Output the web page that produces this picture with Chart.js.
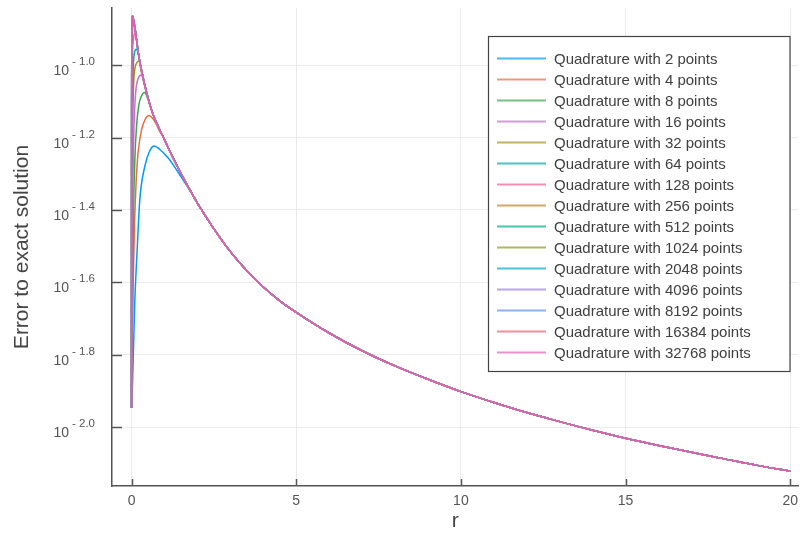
<!DOCTYPE html>
<html><head><meta charset="utf-8">
<script src="https://cdn.jsdelivr.net/npm/chart.js@4/dist/chart.umd.min.js"></script>
<style>html,body{margin:0;padding:0;background:#fff}#wrap{width:805px;height:534px}</style>
</head><body><div id="wrap"><canvas id="c" width="805" height="534"></canvas></div>
<script>
// ---- data (y values are log10 of the error) ----
const seriesLabels = ["Quadrature with 2 points","Quadrature with 4 points","Quadrature with 8 points","Quadrature with 16 points","Quadrature with 32 points","Quadrature with 64 points","Quadrature with 128 points","Quadrature with 256 points","Quadrature with 512 points","Quadrature with 1024 points","Quadrature with 2048 points","Quadrature with 4096 points","Quadrature with 8192 points","Quadrature with 16384 points","Quadrature with 32768 points"];
const seriesColors = ["#009AFA","#E36F47","#3EA44E","#C371D2","#AC8E18","#00AAAE","#ED5E93","#C68225","#00A98D","#8E971E","#00A8CB","#9B7FE9","#618DF6","#F05F73","#DD64B5"];
const xTickValues = [0,5,10,15,20];
const yTickExps = [-1.0,-1.2,-1.4,-1.6,-1.8,-2.0];

// common curve that all series follow once converged: [r, log10 error]
const envelope = [[0.03,-0.864],[0.05,-0.87],[0.1,-0.895],[0.15,-0.928],[0.2,-0.962],[0.25,-0.99],[0.3,-1.013],[0.4,-1.054],[0.5,-1.09],[0.65,-1.135],[0.8,-1.167],[0.97,-1.2],[1.15,-1.235],[1.36,-1.274],[1.6,-1.316],[1.85,-1.357],[2.06,-1.39],[2.5,-1.452],[3,-1.515],[3.5,-1.568],[4,-1.613],[4.5,-1.651],[5,-1.683],[6,-1.74],[7,-1.789],[8,-1.831],[9,-1.868],[10,-1.902],[11,-1.932],[12,-1.96],[13,-1.985],[14,-2.009],[15,-2.031],[16,-2.051],[17,-2.07],[18,-2.088],[19,-2.106],[20,-2.122]];

// beginning of each series, before it joins the common curve
const head2 = [[0,-1.947],[0.03,-1.878],[0.1,-1.649],[0.17,-1.51],[0.25,-1.372],[0.4,-1.28],[0.55,-1.237],[0.69,-1.223],[0.85,-1.232],[1.1,-1.255],[1.36,-1.288],[1.6,-1.322],[1.85,-1.358]];
const head4 = [[0,-1.947],[0.02,-1.8],[0.05,-1.6],[0.09,-1.44],[0.14,-1.32],[0.2,-1.24],[0.3,-1.18],[0.42,-1.148],[0.53,-1.139],[0.65,-1.148],[0.75,-1.163],[0.85,-1.182]];
const head8 = [[0,-1.947],[0.01,-1.82],[0.03,-1.6],[0.06,-1.4],[0.1,-1.26],[0.15,-1.17],[0.22,-1.11],[0.3,-1.085],[0.4,-1.075],[0.5,-1.095],[0.58,-1.118]];
const head16 = [[0,-1.947],[0.008,-1.78],[0.02,-1.55],[0.045,-1.3],[0.08,-1.15],[0.13,-1.07],[0.2,-1.037],[0.3,-1.027],[0.4,-1.058]];
const head32 = [[0,-1.947],[0.004,-1.75],[0.012,-1.45],[0.03,-1.2],[0.06,-1.06],[0.1,-1.01],[0.16,-0.993],[0.23,-0.988],[0.3,-1.02]];
const head64 = [[0,-1.947],[0.002,-1.7],[0.007,-1.4],[0.02,-1.15],[0.045,-1.02],[0.08,-0.97],[0.15,-0.955],[0.2,-0.968]];
const head128 = [[0,-1.947],[0.001,-1.7],[0.004,-1.35],[0.012,-1.1],[0.03,-0.97],[0.06,-0.925],[0.1,-0.913]];
const head256 = [[0,-1.947],[0.0005,-1.6],[0.002,-1.3],[0.007,-1.05],[0.02,-0.93],[0.05,-0.89]];
const head512 = [[0,-1.947],[0.001,-1.4],[0.004,-1.1],[0.012,-0.93],[0.025,-0.875]];
const headFine = [[0,-1.947],[0.0005,-1.5],[0.002,-1.1],[0.008,-0.92],[0.02,-0.868]];
const seriesHeads = [head2,head4,head8,head16,head32,head64,head128,head256,head512,headFine,headFine,headFine,headFine,headFine,headFine];

// ---- build datasets ----
function buildSeries(head){
  const last = head[head.length-1][0];
  return head.concat(envelope.filter(p => p[0] > last)).map(p => ({x:p[0], y:Math.pow(10,p[1])}));
}
const datasets = seriesLabels.map((lab,i)=>({
  label: lab,
  data: buildSeries(seriesHeads[i]),
  borderColor: seriesColors[i],
  borderWidth: 1.5,
  pointRadius: 0,
  fill: false,
  cubicInterpolationMode: 'monotone',
  order: seriesLabels.length - i
}));

const FONT = "'Liberation Sans', Arial, Helvetica, sans-serif";

const decorPlugin = {
  id:'decor',
  afterDraw(chart){
    const ctx = chart.ctx, xs = chart.scales.x, ys = chart.scales.y, ca = chart.chartArea;
    ctx.save();
    // inner tick marks
    ctx.strokeStyle = '#555'; ctx.lineWidth = 1.5;
    yTickExps.forEach(e=>{
      const y = Math.round(ys.getPixelForValue(Math.pow(10,e)))+0.5;
      ctx.beginPath(); ctx.moveTo(ca.left, y); ctx.lineTo(ca.left+10, y); ctx.stroke();
    });
    xTickValues.forEach(v=>{
      const x = Math.round(xs.getPixelForValue(v))+0.5;
      ctx.beginPath(); ctx.moveTo(x, ca.bottom); ctx.lineTo(x, ca.bottom-7); ctx.stroke();
    });
    // y tick labels 10^e
    ctx.fillStyle = '#555';
    ctx.textBaseline = 'alphabetic';
    yTickExps.forEach(e=>{
      const y = ys.getPixelForValue(Math.pow(10,e));
      ctx.font = "14px " + FONT; ctx.textAlign = 'right';
      ctx.fillText('10', 69, y+10);
      ctx.font = "11.5px " + FONT; ctx.textAlign = 'left';
      ctx.fillText('- ' + Math.abs(e).toFixed(1), 72, y);
    });
    // legend
    const L = 488.5, T = 36.5, W = 301.5, H = 335;
    ctx.fillStyle = '#fff'; ctx.fillRect(L, T, W, H);
    ctx.strokeStyle = '#444'; ctx.lineWidth = 1.2; ctx.strokeRect(L, T, W, H);
    ctx.font = "15px " + FONT; ctx.textAlign = 'left'; ctx.textBaseline = 'middle';
    seriesLabels.forEach((lab,i)=>{
      const y = 58.5 + i*21;
      ctx.strokeStyle = seriesColors[i]; ctx.globalAlpha = 0.7; ctx.lineWidth = 2;
      ctx.beginPath(); ctx.moveTo(497, y); ctx.lineTo(546, y); ctx.stroke();
      ctx.globalAlpha = 1;
      ctx.fillStyle = '#404040';
      ctx.fillText(lab, 554, y+1);
    });
    ctx.restore();
  }
};

new Chart(document.getElementById('c'), {
  type: 'line',
  data: { datasets },
  options: {
    responsive: false, animation: false, devicePixelRatio: 1,
    layout: { padding: { top: 8, right: 2, left: 0, bottom: 0 } },
    plugins: { legend: { display: false }, tooltip: { enabled: false } },
    scales: {
      x: {
        type: 'linear', min: -0.594, max: 20.25,
        afterBuildTicks: s => { s.ticks = xTickValues.map(v => ({value: v})); },
        afterFit: s => { s.height = 48; },
        grid: { color: '#ebebeb', lineWidth: 1, drawTicks: false },
        border: { display: true, color: '#555', width: 1.5 },
        ticks: { color: '#555', font: { family: FONT, size: 14 }, padding: 7, maxRotation: 0,
                 callback: v => String(v) },
        title: { display: true, text: 'r', color: '#444', font: { family: FONT, size: 21 }, padding: { top: 0, bottom: 0 } }
      },
      y: {
        type: 'logarithmic', min: Math.pow(10,-2.163), max: Math.pow(10,-0.8416),
        afterBuildTicks: s => { s.ticks = yTickExps.map(e => ({value: Math.pow(10,e)})); },
        afterFit: s => { s.width = 112; },
        grid: { color: '#ebebeb', lineWidth: 1, drawTicks: false },
        border: { display: true, color: '#555', width: 1.5 },
        ticks: { display: false },
        title: { display: true, text: 'Error to exact solution', color: '#444', font: { family: FONT, size: 21 }, padding: { top: 10, bottom: 0 } }
      }
    }
  },
  plugins: [decorPlugin]
});
</script>
</body></html>
